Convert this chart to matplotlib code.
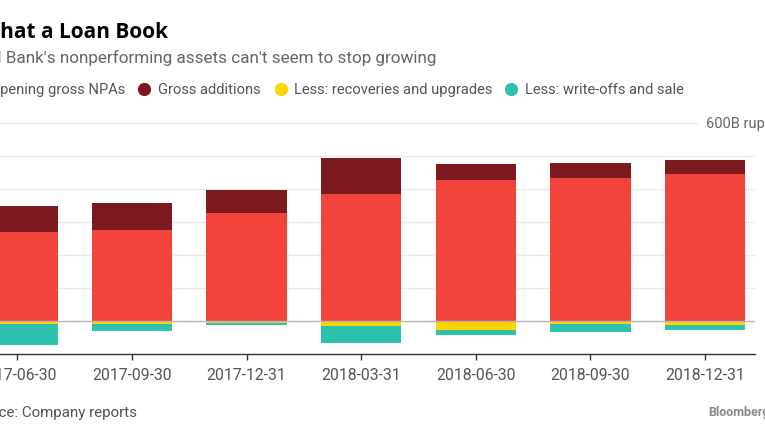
import numpy as np
import matplotlib
matplotlib.use('Agg')
import matplotlib.pyplot as plt
from matplotlib.lines import Line2D

plt.rcParams['font.family'] = ['Roboto', 'DejaVu Sans']

W, H = 765, 430
DPI = 100

###############################################################################

''' Data (billion rupees, read off the chart) '''

quarters = ['2017-06-30', '2017-09-30', '2017-12-31', '2018-03-31',
            '2018-06-30', '2018-09-30', '2018-12-31']
opening = [271, 276, 327, 384, 428, 433, 445]
additions = [79, 81, 70, 110, 47, 46, 43]
recoveries = [9, 8, 5, 14, 27, 8, 12]
writeoffs = [65, 22, 8, 52, 15, 26, 14]

series_names = ['Opening gross NPAs', 'Gross additions',
                'Less: recoveries and upgrades', 'Less: write-offs and sale']
colors = ['#F3443B', '#7D1A1F', '#FDD600', '#2CC2AE']

yticks = [0, 100, 200, 300, 400, 500]

###############################################################################

def fx(px):
    return px / W

def fy(py):
    return 1 - py / H

fig = plt.figure(figsize=(W / DPI, H / DPI), dpi=DPI)

# axes deliberately run off the left edge of the canvas
x_lo, x_hi = -0.75, 6.436
step = 114.6
left_px = 17.4 + x_lo * step
right_px = 17.4 + x_hi * step
ax = fig.add_axes([fx(left_px), fy(354), (right_px - left_px) / W, (354 - 123) / H])
ax.set_xlim(x_lo, x_hi)
ax.set_ylim(-100, 600)

x = np.arange(len(quarters))
bw = 0.70
opening = np.array(opening)
additions = np.array(additions)
recoveries = np.array(recoveries)
writeoffs = np.array(writeoffs)

# gridlines
for v in yticks[1:]:
    ax.axhline(v, color='#e9e9e9', lw=1, zorder=0)
ax.axhline(600, xmax=(697 - left_px) / (right_px - left_px), color='#e9e9e9',
           lw=1, zorder=0, clip_on=False)

ax.bar(x, opening, bw, color=colors[0], zorder=2)
ax.bar(x, additions, bw, bottom=opening, color=colors[1], zorder=2)
ax.bar(x, -recoveries, bw, color=colors[2], zorder=2)
ax.bar(x, -writeoffs, bw, bottom=-recoveries, color=colors[3], zorder=2)

ax.axhline(0, color='#b5b5b5', lw=1, zorder=3)

for s in ['top', 'left', 'right']:
    ax.spines[s].set_visible(False)
ax.spines['bottom'].set_color('#333333')
ax.spines['bottom'].set_linewidth(1)

ax.set_xticks(x)
ax.set_xticklabels(quarters)
ax.tick_params(axis='x', direction='out', length=4, width=1, color='#333333',
               labelsize=11.3, labelcolor='#555555', pad=6)

ax.yaxis.tick_right()
ax.set_yticks(yticks)
ax.set_yticklabels([str(v) for v in yticks])
ax.tick_params(axis='y', length=0, labelsize=10.5, labelcolor='#666666', pad=7)

fig.text(fx(706), fy(124), '600B rupees', fontsize=10.5, color='#666666',
         va='center', ha='left')

# titles (cropped on the left like the reference)
fig.text(fx(168), fy(38), 'What a Loan Book', fontsize=15, fontweight='bold',
         family=['Open Sans', 'DejaVu Sans'], color='#000000', ha='right',
         va='baseline')
fig.text(fx(436), fy(63), "Punjab National Bank's nonperforming assets can't seem to stop growing",
         fontsize=12.3, color='#666666', ha='right', va='baseline')

# legend row
dot_x = [-20, 144, 280.5, 511]
for i, (name, c) in enumerate(zip(series_names, colors)):
    fig.add_artist(Line2D([fx(dot_x[i])], [fy(89)], marker='o', markersize=8.5,
                          color=c, linestyle='none', transform=fig.transFigure))
    if i == 0:
        fig.text(fx(125), fy(94), name, fontsize=10.6, color='#555555',
                 ha='right', va='baseline')
    else:
        fig.text(fx(dot_x[i] + 14), fy(94), name, fontsize=10.6, color='#555555',
                 ha='left', va='baseline')

fig.text(fx(137), fy(417), 'Source: Company reports', fontsize=10.9,
         color='#555555', ha='right', va='baseline')
fig.text(fx(708), fy(416), 'Bloomberg', fontsize=9, fontweight='bold',
         color='#8a8a8a', ha='left', va='baseline')

fig.savefig('out.png', dpi=DPI)
